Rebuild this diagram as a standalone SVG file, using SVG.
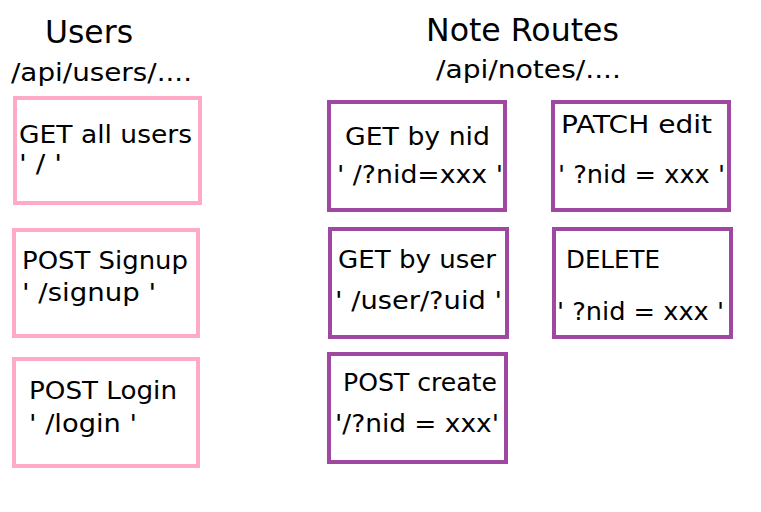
<svg xmlns="http://www.w3.org/2000/svg" width="761" height="512" viewBox="0 0 761 512">
<style>
text{font-family:"DejaVu Sans","Liberation Sans",sans-serif;fill:#000;}
.t{font-size:32px;}
.s{font-size:25px;}
.b{font-size:25px;}
.u{fill:#fff;stroke:#ffaac9;stroke-width:4;}
.n{fill:#fff;stroke:#9e48a2;stroke-width:4;}
</style>
<rect width="761" height="512" fill="#fff"/>
<g id="headers">
<text class="t" x="45" y="43" textLength="88" lengthAdjust="spacingAndGlyphs">Users</text>
<text class="s" x="11" y="81" textLength="181" lengthAdjust="spacingAndGlyphs">/api/users/....</text>
<text class="t" x="426" y="41" textLength="193" lengthAdjust="spacingAndGlyphs">Note Routes</text>
<text class="s" x="436" y="78" textLength="185" lengthAdjust="spacingAndGlyphs">/api/notes/....</text>
</g>
<g id="connectors"></g>
<g id="get-all-users">
<rect class="u" x="15" y="98" width="185" height="105"/>
<text class="b" x="19" y="143" textLength="173" lengthAdjust="spacingAndGlyphs">GET all users</text>
<text class="b" x="19" y="172" textLength="43" lengthAdjust="spacingAndGlyphs">' / '</text>
</g>
<g id="post-signup">
<rect class="u" x="14" y="230" width="184" height="106"/>
<text class="b" x="22" y="269" textLength="166" lengthAdjust="spacingAndGlyphs">POST Signup</text>
<text class="b" x="22" y="301" textLength="134" lengthAdjust="spacingAndGlyphs">' /signup '</text>
</g>
<g id="post-login">
<rect class="u" x="14" y="359" width="184" height="107"/>
<text class="b" x="29" y="399" textLength="148" lengthAdjust="spacingAndGlyphs">POST Login</text>
<text class="b" x="29" y="432" textLength="108" lengthAdjust="spacingAndGlyphs">' /login '</text>
</g>
<g id="get-by-nid">
<rect class="n" x="329" y="102" width="176" height="108"/>
<text class="b" x="345" y="145" textLength="145" lengthAdjust="spacingAndGlyphs">GET by nid</text>
<text class="b" x="337" y="183" textLength="166" lengthAdjust="spacingAndGlyphs">' /?nid=xxx '</text>
</g>
<g id="patch-edit">
<rect class="n" x="553" y="102" width="176" height="108"/>
<text class="b" x="561" y="133" textLength="151" lengthAdjust="spacingAndGlyphs">PATCH edit</text>
<text class="b" x="558" y="183" textLength="167" lengthAdjust="spacingAndGlyphs">' ?nid = xxx '</text>
</g>
<g id="get-by-user">
<rect class="n" x="330" y="229" width="177" height="108"/>
<text class="b" x="338" y="268" textLength="158" lengthAdjust="spacingAndGlyphs">GET by user</text>
<text class="b" x="335" y="309" textLength="167" lengthAdjust="spacingAndGlyphs">' /user/?uid '</text>
</g>
<g id="delete">
<rect class="n" x="554" y="229" width="177" height="108"/>
<text class="b" x="566" y="268" textLength="94" lengthAdjust="spacingAndGlyphs">DELETE</text>
<text class="b" x="557" y="320" textLength="167" lengthAdjust="spacingAndGlyphs">' ?nid = xxx '</text>
</g>
<g id="post-create">
<rect class="n" x="329" y="354" width="177" height="108"/>
<text class="b" x="343" y="391" textLength="154" lengthAdjust="spacingAndGlyphs">POST create</text>
<text class="b" x="335" y="432" textLength="164" lengthAdjust="spacingAndGlyphs">'/?nid = xxx'</text>
</g>
</svg>
